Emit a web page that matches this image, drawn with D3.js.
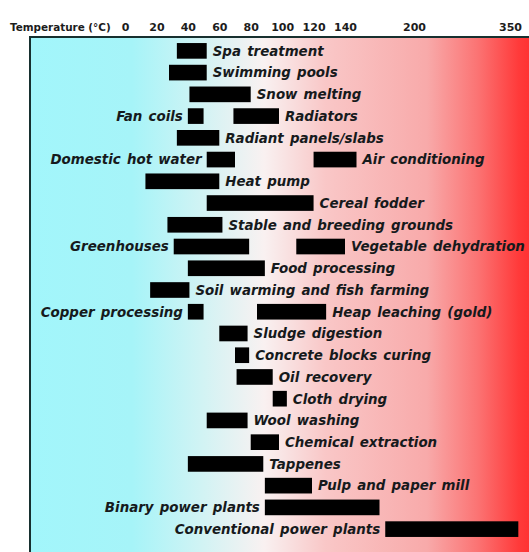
<!DOCTYPE html>
<html>
<head>
<meta charset="utf-8">
<script src="https://cdn.jsdelivr.net/npm/d3@7"></script>
<style>
  body { margin: 0; background: #fff; }
  svg { display: block; }
  .lbl { font-family: 'DejaVu Sans', sans-serif; font-weight: bold; font-style: italic; font-size: 13.4px; word-spacing: 1.5px; fill: #161a1c; }
  .axis text { font-family: 'DejaVu Sans', sans-serif; font-weight: bold; font-size: 11px; fill: #1c1c1c; }
</style>
</head>
<body>
<div id="chart"></div>
<script>
// Application names, temperature ranges (°C) and the row each bar sits on
let apps = ['Spa treatment', 'Swimming pools', 'Snow melting', 'Fan coils', 'Radiators',
  'Radiant panels/slabs', 'Domestic hot water', 'Air conditioning', 'Heat pump', 'Cereal fodder',
  'Stable and breeding grounds', 'Greenhouses', 'Vegetable dehydration', 'Food processing',
  'Soil warming and fish farming', 'Copper processing', 'Heap leaching (gold)', 'Sludge digestion',
  'Concrete blocks curing', 'Oil recovery', 'Cloth drying', 'Wool washing', 'Chemical extraction',
  'Tappenes', 'Pulp and paper mill', 'Binary power plants', 'Conventional power plants']
let tLow = [33, 28, 41, 40, 69, 33, 52, 120, 13, 52, 27, 31, 109, 40, 16, 40, 84, 60, 70, 71, 94, 52, 80, 40, 89, 89, 175]
let tHigh = [52, 52, 80, 50, 98, 60, 70, 150, 60, 120, 62, 79, 140, 89, 41, 50, 128, 78, 79, 94, 103, 78, 98, 88, 119, 170, 363]
let rows = [0, 1, 2, 3, 3, 4, 5, 5, 6, 7, 8, 9, 9, 10, 11, 12, 12, 13, 14, 15, 16, 17, 18, 19, 20, 21, 22]
let sides = ['r', 'r', 'r', 'l', 'r', 'r', 'l', 'r', 'r', 'r', 'r', 'l', 'r', 'r', 'r', 'l', 'r', 'r', 'r', 'r', 'r', 'r', 'r', 'r', 'r', 'l', 'l']

// Axis ticks (the scale is stretched below 140 °C)
let tickValues = [0, 20, 40, 60, 80, 100, 120, 140, 200, 350]

let width = 529
let height = 552
let frame = { left: 30, top: 37 }

let svg = d3.select('#chart')
  .append('svg')
  .attr('width', width)
  .attr('height', height)

let xPositionScale = d3.scaleLinear()
  .domain([0, 140, 200, 350])
  .range([125, 345, 414, 510])

let yPositionScale = d3.scaleBand()
  .domain(d3.range(23))
  .range([40, 540])
  .paddingInner(0.28)
  .paddingOuter(0.14)

// background gradient cyan -> white -> red
let grad = svg.append('defs')
  .append('linearGradient')
  .attr('id', 'bg')
  .attr('x1', '0%').attr('x2', '100%')
let stops = [[0, '#a2f6fb'], [0.2, '#a6f4f8'], [0.34, '#d2f3f4'], [0.46, '#f9f1f1'],
  [0.58, '#f9c7c7'], [0.78, '#f8aaaa'], [0.88, '#fb7373'], [0.96, '#ff3a3a'], [1, '#ff2a2a']]
stops.forEach(s => {
  grad.append('stop').attr('offset', s[0]).attr('stop-color', s[1])
})

svg.append('rect')
  .attr('x', frame.left)
  .attr('y', frame.top)
  .attr('width', width - frame.left + 10)
  .attr('height', height - frame.top + 10)
  .attr('fill', 'url(#bg)')
  .attr('stroke', '#17302f')
  .attr('stroke-width', 2)

// axis on top
let xAxis = d3.axisTop(xPositionScale)
  .tickValues(tickValues)
  .tickSize(0)
  .tickPadding(6)
svg.append('g')
  .attr('class', 'axis')
  .attr('transform', `translate(0,${frame.top})`)
  .call(xAxis)
  .call(g => g.select('.domain').remove())

svg.append('text')
  .attr('x', 10)
  .attr('y', 31)
  .attr('font-family', 'DejaVu Sans, sans-serif')
  .attr('font-weight', 'bold')
  .attr('font-size', 10.4)
  .attr('fill', '#1c1c1c')
  .text('Temperature (°C)')

let data = apps.map((name, i) => ({
  name: name, low: tLow[i], high: tHigh[i], row: rows[i], side: sides[i]
}))

svg.selectAll('.bar')
  .data(data)
  .enter()
  .append('rect')
  .attr('class', 'bar')
  .attr('x', d => xPositionScale(d.low))
  .attr('y', d => yPositionScale(d.row))
  .attr('width', d => xPositionScale(d.high) - xPositionScale(d.low))
  .attr('height', yPositionScale.bandwidth())
  .attr('fill', '#000')

svg.selectAll('.lbl')
  .data(data)
  .enter()
  .append('text')
  .attr('class', 'lbl')
  .attr('x', d => d.side === 'r' ? xPositionScale(d.high) + 6 : xPositionScale(d.low) - 5)
  .attr('y', d => yPositionScale(d.row) + yPositionScale.bandwidth() / 2)
  .attr('dy', '0.36em')
  .attr('text-anchor', d => d.side === 'r' ? 'start' : 'end')
  .text(d => d.name)
</script>
</body>
</html>
